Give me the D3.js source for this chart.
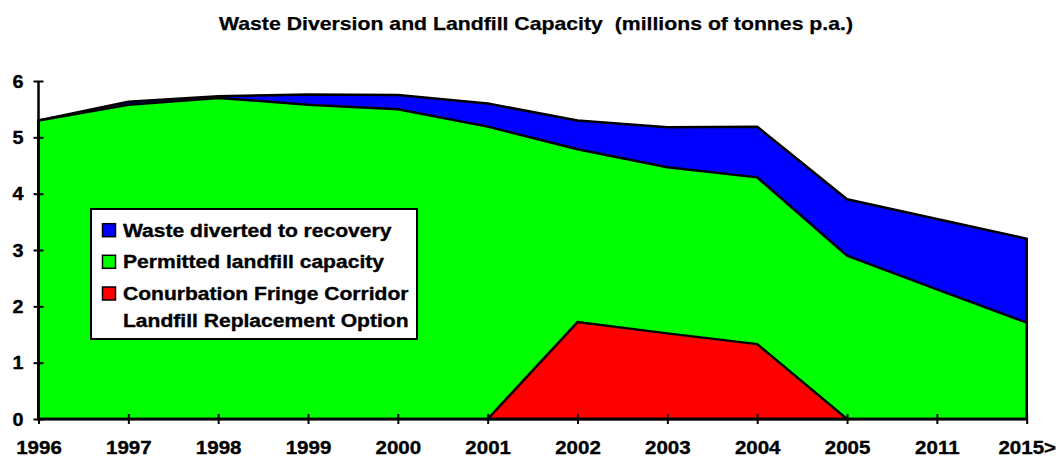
<!DOCTYPE html>
<html>
<head>
<meta charset="utf-8">
<script src="https://cdn.jsdelivr.net/npm/d3@7"></script>
<style>
  html, body { margin: 0; padding: 0; background: #fff; }
  svg { display: block; font-family: "Liberation Sans", Arial, sans-serif; font-weight: bold; }
</style>
</head>
<body>
<svg id="chart" width="1058" height="457"></svg>
<script>
const years = ["1996","1997","1998","1999","2000","2001","2002","2003","2004","2005","2011","2015>"];
const landfillCapacity = [5.30, 5.58, 5.70, 5.58, 5.50, 5.19, 4.79, 4.47, 4.29, 2.90, 2.30, 1.71];
const wasteDiverted    = [0.00, 0.05, 0.03, 0.18, 0.25, 0.41, 0.51, 0.71, 0.90, 1.00, 1.25, 1.49];
const fringeOption     = [null, null, null, null, null, 0.00, 1.72, 1.52, 1.33, 0.00, null, null];
const yTicks = [0, 1, 2, 3, 4, 5, 6];
const titleText = "Waste Diversion and Landfill Capacity  (millions of tonnes p.a.)";
const legendItems = [
  { lines: ["Waste diverted to recovery"], color: "#0000ff" },
  { lines: ["Permitted landfill capacity"], color: "#00ff00" },
  { lines: ["Conurbation Fringe Corridor", "Landfill Replacement Option"], color: "#ff0000" }
];

const svg = d3.select("#chart");
const x = d3.scalePoint().domain(years).range([38.5, 1026.7]);
const y = d3.scaleLinear().domain([0, 6]).range([419, 81]);

const rows = years.map((yr, i) => ({ year: yr, capacity: landfillCapacity[i], diverted: wasteDiverted[i] }));
const stacked = d3.stack().keys(["capacity", "diverted"])(rows);

const area = d3.area()
  .x((d) => x(d.data.year))
  .y0(y(0))
  .y1((d) => y(d[1]));

svg.append("path")
  .datum(stacked[1])
  .attr("d", area)
  .attr("fill", "#0000ff")
  .attr("stroke", "#000")
  .attr("stroke-width", 2.5);

svg.append("path")
  .datum(stacked[0])
  .attr("d", area)
  .attr("fill", "#00ff00")
  .attr("stroke", "#000")
  .attr("stroke-width", 2.5);

const redData = years.map((yr, i) => ({ year: yr, v: fringeOption[i] })).filter(d => d.v !== null);
svg.append("path")
  .datum(redData)
  .attr("d", d3.area().x(d => x(d.year)).y0(y(0)).y1(d => y(d.v)))
  .attr("fill", "#ff0000")
  .attr("stroke", "#000")
  .attr("stroke-width", 2.5);

// stretch helper: widen glyphs slightly to match the reference font
function stretch(sel, factor) {
  sel.each(function () {
    const len = this.getComputedTextLength();
    d3.select(this).attr("textLength", len * factor).attr("lengthAdjust", "spacingAndGlyphs");
  });
}

// Axes
const yAxis = svg.append("g")
  .attr("transform", `translate(${x(years[0])},0)`)
  .call(d3.axisLeft(y).tickValues(yTicks).tickSize(5).tickPadding(10).tickFormat(d3.format("d")));
yAxis.select(".domain").attr("d", `M0,${y(6)}V${y(0)}`).attr("stroke", "#000").attr("stroke-width", 2.5);
yAxis.selectAll(".tick line").attr("x1", 5).attr("stroke-width", 2);
yAxis.selectAll(".tick text").attr("font-size", 18).attr("font-weight", "bold").attr("fill", "#000")
  .attr("font-family", "Liberation Sans, Arial, sans-serif").attr("dy", "0.35em")
  .attr("stroke", "#000").attr("stroke-width", 0.35);
stretch(yAxis.selectAll(".tick text"), 1.1);

const xAxis = svg.append("g")
  .attr("transform", `translate(0,${y(0)})`)
  .call(d3.axisBottom(x).tickSize(5).tickPadding(17));
xAxis.select(".domain").attr("d", `M${x(years[0])},0H${x(years[years.length-1])}`).attr("stroke", "#000").attr("stroke-width", 2.5);
xAxis.selectAll(".tick line").attr("y1", -5).attr("stroke-width", 2);
xAxis.selectAll(".tick text").attr("font-size", 18).attr("font-weight", "bold").attr("fill", "#000")
  .attr("font-family", "Liberation Sans, Arial, sans-serif")
  .attr("stroke", "#000").attr("stroke-width", 0.35);
stretch(xAxis.selectAll(".tick text"), 1.14);

// Title
const title = svg.append("text")
  .attr("x", 536).attr("y", 30)
  .attr("text-anchor", "middle")
  .attr("font-size", 18.5)
  .attr("xml:space", "preserve")
  .style("white-space", "pre")
  .attr("stroke", "#000").attr("stroke-width", 0.25)
  .text(titleText);
title.attr("textLength", 634).attr("lengthAdjust", "spacingAndGlyphs");

// Legend
const lg = svg.append("g");
lg.append("rect")
  .attr("x", 91).attr("y", 209).attr("width", 326).attr("height", 130)
  .attr("fill", "#fff").attr("stroke", "#000").attr("stroke-width", 2);
const lineY = [236.7, 268.3, 300];
legendItems.forEach((it, i) => {
  lg.append("rect")
    .attr("x", 102.5).attr("y", lineY[i] - 13).attr("width", 13).attr("height", 13)
    .attr("fill", it.color).attr("stroke", "#000").attr("stroke-width", 1.5);
  it.lines.forEach((ln, j) => {
    lg.append("text")
      .attr("x", 123).attr("y", lineY[i] + j * 26.7)
      .attr("font-size", 18)
      .attr("stroke", "#000").attr("stroke-width", 0.35)
      .text(ln);
  });
});
stretch(lg.selectAll("text"), 1.17);
</script>
</body>
</html>
